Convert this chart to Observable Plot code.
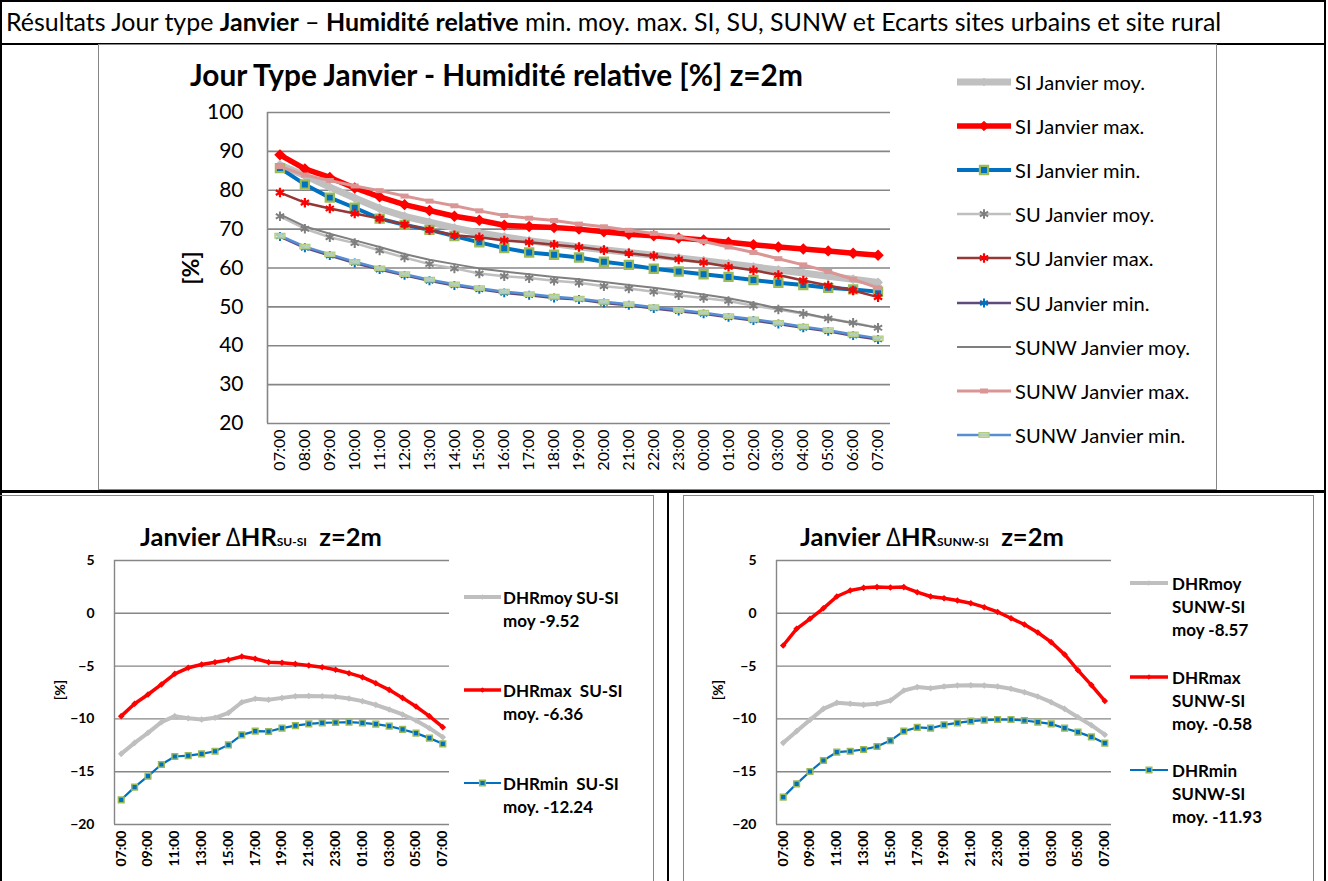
<!DOCTYPE html>
<html><head><meta charset="utf-8">
<script src="https://cdn.jsdelivr.net/npm/d3@7"></script>
<script src="https://cdn.jsdelivr.net/npm/@observablehq/plot@0.6"></script>
<style>
body{margin:0;background:#fff;}
#root{position:relative;width:1328px;height:881px;overflow:hidden;background:#fff;font-family:Lato,"Open Sans",sans-serif;color:#000;}
#root svg{overflow:visible;}
.t{position:absolute;white-space:nowrap;line-height:1;}
</style></head><body><div id="root"></div>
<script>
// ---------- DATA ----------
const hours = ["07:00","08:00","09:00","10:00","11:00","12:00","13:00","14:00","15:00","16:00","17:00","18:00","19:00","20:00","21:00","22:00","23:00","00:00","01:00","02:00","03:00","04:00","05:00","06:00","07:00"];
const topTicks = [20,30,40,50,60,70,80,90,100];
const bottomTicks = [-20,-15,-10,-5,0,5];

const siMoy   = [86.5,83.8,80.8,78.0,75.3,73.3,71.8,70.3,69.0,68.0,67.0,66.2,65.4,64.7,64.0,63.3,62.6,61.9,61.1,60.3,59.5,58.7,57.9,57.1,56.3];
const siMax   = [89.1,85.5,83.3,80.6,78.3,76.3,74.8,73.3,72.3,71.0,70.7,70.4,70.0,69.3,68.7,68.3,67.7,67.2,66.6,66.0,65.4,64.9,64.4,63.8,63.3];
const siMin   = [85.7,81.5,78.1,75.5,72.7,71.1,69.8,68.2,66.6,65.1,64.0,63.4,62.7,61.6,60.8,59.8,59.1,58.4,57.7,56.9,56.2,55.6,54.9,54.5,53.9];
const suMoy   = [73.3,70.1,67.9,66.4,64.5,62.7,61.0,59.9,58.6,57.9,57.4,56.7,56.2,55.3,54.7,53.9,53.0,52.3,51.5,50.3,49.3,48.2,47.0,45.9,44.6];
const suMax   = [79.4,76.8,75.3,74.0,72.7,71.2,69.8,68.4,67.9,67.1,66.6,66.0,65.4,64.6,63.8,63.1,62.2,61.4,60.3,59.4,58.2,56.8,55.5,54.2,52.5];
const suMin   = [68.1,65.2,63.2,61.3,59.6,58.1,56.7,55.5,54.5,53.6,53.0,52.3,51.9,51.0,50.4,49.6,48.9,48.2,47.3,46.5,45.6,44.6,43.7,42.6,41.6];
const sunwMoy = [73.8,70.7,68.8,67.1,65.4,63.6,62.1,61.0,59.9,59.1,58.4,57.7,57.1,56.4,55.6,54.9,54.1,53.2,52.2,51.0,49.6,48.4,47.0,45.8,44.6];
const sunwMax = [86.1,83.9,82.5,81.1,79.9,78.5,77.2,76.0,74.7,73.5,72.8,72.2,71.3,70.6,69.7,68.9,68.0,66.8,65.4,64.0,62.4,60.8,59.1,57.1,54.9];
const sunwMin = [68.3,65.5,63.5,61.6,59.9,58.4,57.0,55.8,54.8,53.9,53.3,52.6,52.1,51.3,50.7,49.9,49.2,48.5,47.6,46.8,45.9,44.9,44.0,42.9,41.9];

const dMoySU  = [-13.31,-12.27,-11.32,-10.31,-9.74,-9.93,-10.06,-9.90,-9.43,-8.42,-8.10,-8.19,-8.01,-7.85,-7.82,-7.85,-7.91,-8.07,-8.32,-8.67,-9.11,-9.58,-10.15,-10.88,-11.73];
const dMaxSU  = [-9.74,-8.57,-7.69,-6.74,-5.73,-5.16,-4.85,-4.63,-4.41,-4.09,-4.31,-4.63,-4.69,-4.79,-4.94,-5.10,-5.35,-5.67,-6.05,-6.62,-7.25,-8.01,-8.83,-9.74,-10.78];
const dMinSU  = [-17.66,-16.46,-15.42,-14.32,-13.56,-13.47,-13.31,-13.06,-12.46,-11.51,-11.16,-11.19,-10.88,-10.63,-10.47,-10.37,-10.34,-10.31,-10.37,-10.50,-10.69,-11.00,-11.35,-11.82,-12.36];

const dMoySUNW = [-12.27,-11.16,-10.09,-9.05,-8.48,-8.57,-8.67,-8.57,-8.26,-7.31,-6.99,-7.09,-6.93,-6.84,-6.81,-6.84,-6.93,-7.15,-7.47,-7.88,-8.42,-9.05,-9.84,-10.6,-11.5];
const dMaxSUNW = [-3.05,-1.47,-0.52,0.47,1.59,2.16,2.41,2.48,2.44,2.48,2.0,1.59,1.43,1.21,0.96,0.58,0.13,-0.47,-1.06,-1.82,-2.73,-3.9,-5.4,-6.8,-8.3];
const dMinSUNW = [-17.41,-16.15,-14.98,-13.94,-13.15,-13.06,-12.90,-12.61,-12.05,-11.16,-10.81,-10.88,-10.56,-10.37,-10.21,-10.12,-10.06,-10.06,-10.15,-10.31,-10.47,-10.88,-11.25,-11.7,-12.3];

const topNames = ["SI Janvier moy.","SI Janvier max.","SI Janvier min.","SU Janvier moy.","SU Janvier max.","SU Janvier min.","SUNW Janvier moy.","SUNW Janvier max.","SUNW Janvier min."];
const leftLegend  = [["DHRmoy SU-SI","moy -9.52"],["DHRmax&nbsp; SU-SI","moy. -6.36"],["DHRmin&nbsp; SU-SI","moy. -12.24"]];
const rightLegend = [["DHRmoy","SUNW-SI","moy -8.57"],["DHRmax","SUNW-SI","moy. -0.58"],["DHRmin","SUNW-SI","moy. -11.93"]];

// ---------- helpers ----------
const root = document.getElementById("root");
function el(css, html, cls){ const d=document.createElement("div"); if(cls) d.className=cls; d.style.cssText="position:absolute;"+css; if(html!=null) d.innerHTML=html; root.appendChild(d); return d; }
const rows = vals => vals.map((v,i)=>({i, v}));
const rectSym = (w,h) => ({draw(ctx){ctx.moveTo(-w/2,-h/2);ctx.lineTo(w/2,-h/2);ctx.lineTo(w/2,h/2);ctx.lineTo(-w/2,h/2);ctx.closePath();}});
const GRID = "#868686";

// series styles
const ST = {
  siMoy:  {line:{stroke:"#C0C0C0",strokeWidth:7}, dot:{symbol:"diamond2",r:3.5,fill:"#C0C0C0",stroke:"#C0C0C0"}},
  siMax:  {line:{stroke:"#FF0000",strokeWidth:5.5}, dot:{symbol:"diamond2",r:4.2,fill:"#FF0000",stroke:"#FF0000"}},
  siMin:  {line:{stroke:"#0070C0",strokeWidth:4}, dot:{symbol:"square",r:4.6,fill:"#0070C0",stroke:"#9BBB59",strokeWidth:2.2}},
  suMoy:  {line:{stroke:"#BFBFBF",strokeWidth:2.5}, dot:{symbol:"asterisk",r:4.5,stroke:"#7F7F7F",strokeWidth:2}},
  suMax:  {line:{stroke:"#953735",strokeWidth:2.5}, dot:{symbol:"asterisk",r:4.5,stroke:"#FF0000",strokeWidth:2.2}},
  suMin:  {line:{stroke:"#604A7B",strokeWidth:2.5}, dot:{symbol:"asterisk",r:4.2,stroke:"#0070C0",strokeWidth:2}},
  sunwMoy:{line:{stroke:"#7F7F7F",strokeWidth:2}, dot:null},
  sunwMax:{line:{stroke:"#D99694",strokeWidth:3}, dot:{symbol:rectSym(8,5),r:3,fill:"#D99694",stroke:"none"}},
  sunwMin:{line:{stroke:"#558ED5",strokeWidth:2.5}, dot:{symbol:rectSym(10,4.5),r:3,fill:"#D7E4BD",fillOpacity:0.75,stroke:"#B3CC80",strokeWidth:1.3}},
  dMoy:   {line:{stroke:"#BFBFBF",strokeWidth:4}, dot:{symbol:"diamond2",r:2,fill:"#BFBFBF",stroke:"#BFBFBF"}},
  dMax:   {line:{stroke:"#FF0000",strokeWidth:3.5}, dot:{symbol:"diamond2",r:2,fill:"#FF0000",stroke:"#FF0000"}},
  dMin:   {line:{stroke:"#0070C0",strokeWidth:2.2}, dot:{symbol:"square",r:3.2,fill:"#0070C0",stroke:"#9BBB59",strokeWidth:1.5}}
};
function seriesMarks(vals, st){
  const m=[Plot.line(rows(vals),{x:"i",y:"v",...st.line})];
  if(st.dot) m.push(Plot.dot(rows(vals),{x:"i",y:"v",...st.dot}));
  return m;
}

// ---------- table borders ----------
el("left:0;top:0;width:1326px;height:2px;background:#000");
el("left:0;top:0;width:2px;height:881px;background:#000");
el("left:1324px;top:0;width:2px;height:881px;background:#000");
el("left:0;top:43px;width:1326px;height:2px;background:#000");
// chart frames (gray)
el("left:98px;top:44px;width:1119px;height:446px;border:1px solid "+GRID+";box-sizing:border-box");
el("left:-2px;top:495px;width:656px;height:420px;border:1px solid "+GRID+";box-sizing:border-box");
el("left:683px;top:495px;width:631px;height:420px;border:1px solid "+GRID+";box-sizing:border-box");
el("left:0;top:490px;width:1326px;height:3px;background:#000");
el("left:667px;top:490px;width:2px;height:391px;background:#000");

// ---------- header ----------
const header = el("left:6px;top:9px;font-size:21px;","Résultats Jour type <b>Janvier</b> – <b>Humidité relative</b> min. moy. max. SI, SU, SUNW et Ecarts sites urbains et site rural","t");

// ---------- top chart ----------
const topTitle = el("left:190px;top:60px;font-size:25px;font-weight:bold;","Jour Type Janvier - Humidité relative [%] z=2m","t");
el("left:190px;top:268px;font-size:23px;font-weight:bold;transform:translate(-50%,-50%) rotate(-90deg);","[%]","t");

const topPlot = Plot.plot({
  width:1119, height:446, marginLeft:169, marginRight:327, marginTop:68, marginBottom:67,
  x:{domain:[-0.5,24.5], axis:null}, y:{domain:[20,100], axis:null},
  style:{fontFamily:"Lato, sans-serif", background:"transparent", color:"#000"},
  marks:[
    Plot.gridY(topTicks,{stroke:GRID,strokeOpacity:1,strokeWidth:1.6}),
    Plot.ruleX([-0.5],{stroke:GRID,strokeWidth:1.6}),
    Plot.axisY({ticks:topTicks, tickSize:0, tickPadding:24, fontSize:21, label:null}),
    Plot.axisX({ticks:d3.range(25), tickFormat:i=>hours[i], tickRotate:-90, tickSize:0, tickPadding:6, fontSize:16, label:null}),
    ...seriesMarks(siMoy,ST.siMoy),
    ...seriesMarks(siMax,ST.siMax),
    ...seriesMarks(siMin,ST.siMin),
    ...seriesMarks(suMoy,ST.suMoy),
    ...seriesMarks(suMax,ST.suMax),
    ...seriesMarks(suMin,ST.suMin),
    ...seriesMarks(sunwMoy,ST.sunwMoy),
    ...seriesMarks(sunwMax,ST.sunwMax),
    ...seriesMarks(sunwMin,ST.sunwMin)
  ]
});
const topBox = el("left:98px;top:44px;");
topBox.appendChild(topPlot);

// legend samples
function sample(st, w, h){
  const y=h/2;
  let s=`<svg width="${w}" height="${h}" style="display:block;overflow:visible">`;
  s+=`<line x1="0" x2="${w}" y1="${y}" y2="${y}" stroke="${st.line.stroke}" stroke-width="${st.line.strokeWidth}"/>`;
  if(st.dot){
    const d=st.dot; let path;
    if(typeof d.symbol==="object"){ const p=d3.path(); d.symbol.draw(p); path=p.toString(); }
    else { const map={diamond2:d3.symbolDiamond2,square:d3.symbolSquare,asterisk:d3.symbolAsterisk}; path=d3.symbol(map[d.symbol], Math.PI*d.r*d.r)(); }
    s+=`<path transform="translate(${w/2},${y})" d="${path}" fill="${d.fill||"none"}" fill-opacity="${d.fillOpacity||1}" stroke="${d.stroke||"none"}" stroke-width="${d.strokeWidth||1}"/>`;
  }
  return s+"</svg>";
}
const topKeys=["siMoy","siMax","siMin","suMoy","suMax","suMin","sunwMoy","sunwMax","sunwMin"];
const topLegTexts=[];
topKeys.forEach((k,j)=>{
  const yc = 82 + j*44.1;
  el(`left:957px;top:${yc-10}px;`, sample(ST[k],54,20));
  topLegTexts.push(el(`left:1015px;top:${yc}px;font-size:19px;transform:translateY(-50%);`, topNames[j], "t"));
});

// ---------- bottom charts ----------
function bottomChart(moy,max,min, mLeft, mRight){
  return Plot.plot({
    width:640, height:381, marginLeft:mLeft, marginRight:mRight, marginTop:60, marginBottom:57,
    x:{domain:[-0.5,24.5], axis:null}, y:{domain:[-20,5], axis:null},
    style:{fontFamily:"Lato, sans-serif", fontWeight:"bold", background:"transparent", color:"#000"},
    marks:[
      Plot.gridY(bottomTicks,{stroke:GRID,strokeOpacity:1,strokeWidth:1.4}),
      Plot.ruleX([-0.5],{stroke:GRID,strokeWidth:1.4}),
      Plot.axisY({ticks:bottomTicks, tickSize:0, tickPadding:20, fontSize:14, label:null}),
      Plot.axisX({ticks:d3.range(0,25,2), tickFormat:i=>hours[i], tickRotate:-90, tickSize:0, tickPadding:6, fontSize:14, label:null}),
      ...seriesMarks(moy,ST.dMoy),
      ...seriesMarks(max,ST.dMax),
      ...seriesMarks(min,ST.dMin)
    ]
  });
}
const bl = el("left:20px;top:500px;"); bl.appendChild(bottomChart(dMoySU,dMaxSU,dMinSU,94,211));
const br = el("left:680px;top:500px;"); br.appendChild(bottomChart(dMoySUNW,dMaxSUNW,dMinSUNW,96,209));

const tL = el("left:140px;top:524px;font-size:20px;font-weight:bold;","Janvier <span style='font-weight:normal'>∆</span>HR<span style='font-size:12px'>SU-SI</span>&nbsp; z=2m","t");
const tR = el("left:800px;top:524px;font-size:20px;font-weight:bold;","Janvier <span style='font-weight:normal'>∆</span>HR<span style='font-size:12px'>SUNW-SI</span>&nbsp; z=2m","t");
el("left:60px;top:690px;font-size:14px;font-weight:bold;transform:translate(-50%,-50%) rotate(-90deg);","[%]","t");
el("left:718px;top:690px;font-size:14px;font-weight:bold;transform:translate(-50%,-50%) rotate(-90deg);","[%]","t");

const bKeys=["dMoy","dMax","dMin"];
[597,690,783].forEach((yc,j)=>{
  el(`left:464px;top:${yc-8}px;`, sample(ST[bKeys[j]],37,16));
  el(`left:503px;top:${yc-11.5}px;font-size:17px;font-weight:bold;line-height:23px;`, leftLegend[j].join("<br>"), "t");
});
[583,677,770].forEach((yc,j)=>{
  el(`left:1130px;top:${yc-8}px;`, sample(ST[bKeys[j]],38,16));
  el(`left:1172px;top:${yc-11.5}px;font-size:17px;font-weight:bold;line-height:23px;`, rightLegend[j].join("<br>"), "t");
});

// ---------- fit text widths to the reference ----------
function fit(node, target){
  const w=node.getBoundingClientRect().width;
  const fs=parseFloat(node.style.fontSize);
  node.style.fontSize=(fs*target/w).toFixed(2)+"px";
}
fit(header,1216);
fit(topTitle,613);
{
  // legend: compromise between the shortest and longest entries
  const fs=parseFloat(topLegTexts[0].style.fontSize);
  const r1=119/topLegTexts[0].getBoundingClientRect().width;
  const r2=190/topLegTexts[6].getBoundingClientRect().width;
  const nf=(fs*(r1+r2)/2).toFixed(2)+"px";
  topLegTexts.forEach(n=>n.style.fontSize=nf);
}
fit(tL,250); fit(tR,278);
</script>
</body></html>
